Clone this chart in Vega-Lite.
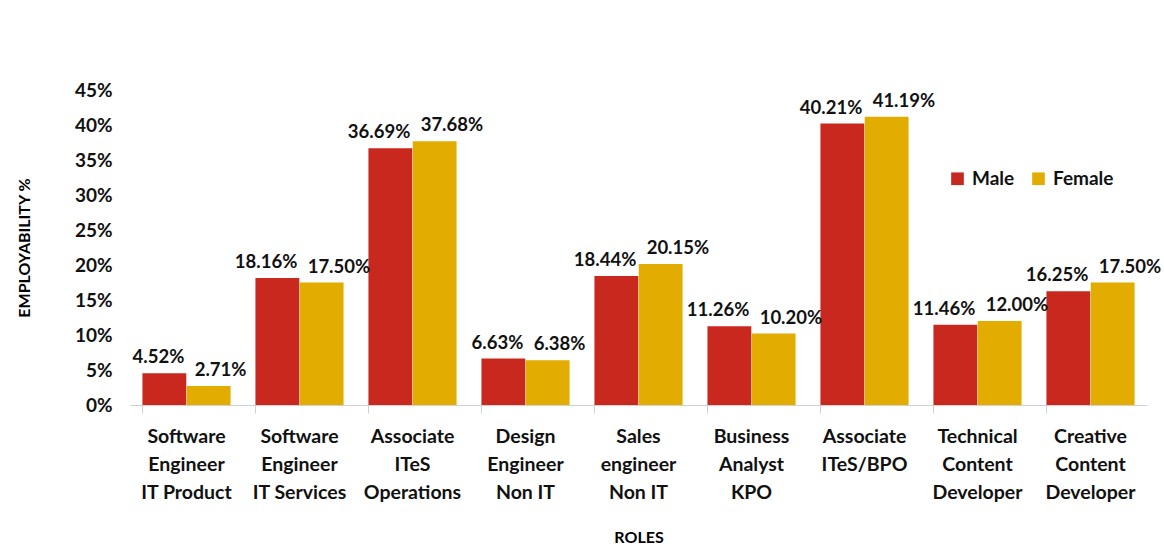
{
  "$schema": "https://vega.github.io/schema/vega-lite/v6.json",
  "width": 1017,
  "height": 315,
  "autosize": {"type": "none"},
  "padding": {"left": 130, "top": 90, "right": 17, "bottom": 154},
  "background": "white",
  "config": {
    "view": {"stroke": null},
    "font": "Lato",
    "axis": {"grid": false}
  },
  "data": {
    "values": [
      {"role": "Software|Engineer|IT Product", "gender": "Male", "value": 0.0452},
      {"role": "Software|Engineer|IT Product", "gender": "Female", "value": 0.0271},
      {"role": "Software|Engineer|IT Services", "gender": "Male", "value": 0.1816},
      {"role": "Software|Engineer|IT Services", "gender": "Female", "value": 0.1750},
      {"role": "Associate|ITeS|Operations", "gender": "Male", "value": 0.3669},
      {"role": "Associate|ITeS|Operations", "gender": "Female", "value": 0.3768},
      {"role": "Design|Engineer|Non IT", "gender": "Male", "value": 0.0663},
      {"role": "Design|Engineer|Non IT", "gender": "Female", "value": 0.0638},
      {"role": "Sales|engineer|Non IT", "gender": "Male", "value": 0.1844},
      {"role": "Sales|engineer|Non IT", "gender": "Female", "value": 0.2015},
      {"role": "Business|Analyst|KPO", "gender": "Male", "value": 0.1126},
      {"role": "Business|Analyst|KPO", "gender": "Female", "value": 0.1020},
      {"role": "Associate|ITeS/BPO", "gender": "Male", "value": 0.4021},
      {"role": "Associate|ITeS/BPO", "gender": "Female", "value": 0.4119},
      {"role": "Technical|Content|Developer", "gender": "Male", "value": 0.1146},
      {"role": "Technical|Content|Developer", "gender": "Female", "value": 0.1200},
      {"role": "Creative|Content|Developer", "gender": "Male", "value": 0.1625},
      {"role": "Creative|Content|Developer", "gender": "Female", "value": 0.1750}
    ]
  },
  "encoding": {
    "x": {
      "field": "role",
      "type": "nominal",
      "sort": null,
      "scale": {"paddingInner": 0.22, "paddingOuter": 0.11},
      "axis": {
        "title": "ROLES",
        "titleFontSize": 16,
        "titleFontWeight": "bold",
        "titleColor": "#000",
        "titlePadding": 28,
        "labelExpr": "split(datum.label, '|')",
        "labelAngle": 0,
        "labelFontSize": 19.5,
        "labelFontWeight": "bold",
        "labelColor": "#111",
        "labelLineHeight": 28,
        "labelPadding": 14,
        "labelLimit": 200,
        "bandPosition": 0,
        "tickColor": "#d0d0d0",
        "tickSize": 8,
        "domainColor": "#d0d0d0"
      }
    },
    "xOffset": {"field": "gender", "type": "nominal", "sort": ["Male", "Female"], "scale": {"paddingInner": 0.01}},
    "y": {
      "field": "value",
      "type": "quantitative",
      "scale": {"domain": [0, 0.45]},
      "axis": {
        "title": "EMPLOYABILITY %",
        "titleFontSize": 16,
        "titleFontWeight": "bold",
        "titleColor": "#000",
        "titlePadding": 42,
        "format": ".0%",
        "values": [0, 0.05, 0.1, 0.15, 0.2, 0.25, 0.3, 0.35, 0.4, 0.45],
        "labelFontSize": 19,
        "labelFontWeight": "bold",
        "labelColor": "#111",
        "labelPadding": 18,
        "domain": false,
        "ticks": false
      }
    },
    "color": {
      "field": "gender",
      "type": "nominal",
      "sort": ["Male", "Female"],
      "scale": {"domain": ["Male", "Female"], "range": ["#C8281E", "#E2AC00"]},
      "legend": {
        "title": null,
        "orient": "none",
        "legendX": 818,
        "legendY": 79,
        "direction": "horizontal",
        "symbolType": "square",
        "symbolSize": 160,
        "symbolStrokeWidth": 0,
        "labelFontSize": 19,
        "labelFontWeight": "bold",
        "labelColor": "#111",
        "columnPadding": 14,
        "labelOffset": 5
      }
    }
  },
  "layer": [
    {"mark": {"type": "bar"}},
    {
      "transform": [{"filter": "datum.gender === 'Male'"}],
      "mark": {"type": "text", "baseline": "bottom", "align": "right", "dx": 20, "dy": -6, "fontSize": 18.5, "fontWeight": "bold", "color": "#111"},
      "encoding": {
        "text": {"field": "value", "type": "quantitative", "format": ".2%"},
        "color": {"value": "#111"}
      }
    },
    {
      "transform": [{"filter": "datum.gender === 'Female'"}],
      "mark": {"type": "text", "baseline": "bottom", "align": "left", "dx": -14, "dy": -6, "fontSize": 18.5, "fontWeight": "bold", "color": "#111"},
      "encoding": {
        "text": {"field": "value", "type": "quantitative", "format": ".2%"},
        "color": {"value": "#111"}
      }
    }
  ]
}
